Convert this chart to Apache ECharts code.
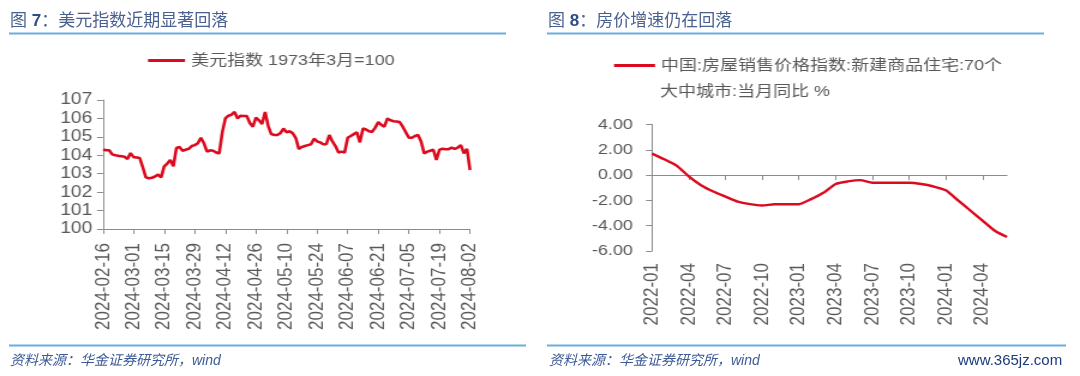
<!DOCTYPE html>
<html><head><meta charset="utf-8">
<script src="https://cdn.jsdelivr.net/npm/echarts@6/dist/echarts.min.js"></script>
<style>
html,body{margin:0;padding:0;background:#fff;width:1080px;height:376px;overflow:hidden}
.c{position:absolute;top:0;height:376px}
</style></head>
<body>
<div id="bg" class="c" style="left:0;width:1080px"></div>
<div id="c1" class="c" style="left:0;width:450px;transform:scaleX(1.2);transform-origin:0 0"></div>
<div id="c2" class="c" style="left:540px;width:450px;transform:scaleX(1.2);transform-origin:0 0"></div>
<script>
// ---------- data ----------
const dxyStart = '2024-02-16';
const dxyEnd = '2024-08-02';
const dxyName = '美元指数 1973年3月=100';
const dxyValues = [
104.30,104.28,104.27,104.05,104.00,103.97,103.95,103.92,103.80,104.12,
103.90,103.88,103.85,103.35,102.80,102.75,102.78,102.85,102.95,102.80,
103.40,103.55,103.75,103.40,104.40,104.45,104.25,104.30,104.35,104.50,
104.55,104.65,104.95,104.65,104.20,104.27,104.25,104.15,104.10,105.25,
106.00,106.15,106.20,106.35,106.00,106.15,106.13,106.13,105.75,105.55,
106.05,105.90,105.70,106.35,105.60,105.15,105.10,105.10,105.20,105.45,
105.25,105.30,105.20,104.95,104.35,104.45,104.50,104.55,104.60,104.90,
104.75,104.70,104.60,104.60,105.10,104.75,104.50,104.15,104.20,104.15,
104.95,105.05,105.15,105.25,104.70,105.45,105.40,105.30,105.27,105.50,
105.80,105.65,105.55,106.00,105.90,105.85,105.83,105.80,105.55,105.25,
104.95,104.95,105.05,105.10,104.75,104.10,104.20,104.25,104.30,103.75,
104.30,104.35,104.33,104.33,104.42,104.35,104.42,104.55,104.10,104.35,
103.20];
const dxyYTicks = [100, 107, 1];

const houseName1 = '中国:房屋销售价格指数:新建商品住宅:70个';
const houseName2 = '大中城市:当月同比 %';
const houseMonths = [
'2022-01','2022-02','2022-03','2022-04','2022-05','2022-06','2022-07','2022-08','2022-09','2022-10','2022-11','2022-12',
'2023-01','2023-02','2023-03','2023-04','2023-05','2023-06','2023-07','2023-08','2023-09','2023-10','2023-11','2023-12',
'2024-01','2024-02','2024-03','2024-04','2024-05','2024-06'];
const houseValues = [1.7,1.25,0.75,-0.1,-0.8,-1.3,-1.7,-2.1,-2.3,-2.4,-2.3,-2.3,
-2.3,-1.9,-1.4,-0.7,-0.5,-0.4,-0.6,-0.6,-0.6,-0.6,-0.7,-0.9,
-1.2,-2.0,-2.8,-3.6,-4.4,-4.9];
const houseYTicks = [-6, 4, 2];

const title1 = ['图 ', '7', '：美元指数近期显著回落'];
const title2 = ['图 ', '8', '：房价增速仍在回落'];
const sourceText = '资料来源：华金证券研究所，wind';
const watermark = 'www.365jz.com';

// weekday categories
function weekdays(a, b) {
  const out = [];
  const d = new Date(a + 'T00:00:00Z'), e = new Date(b + 'T00:00:00Z');
  while (d <= e) {
    const w = d.getUTCDay();
    if (w !== 0 && w !== 6) out.push(d.toISOString().slice(0, 10));
    d.setUTCDate(d.getUTCDate() + 1);
  }
  return out;
}
const dxyDates = weekdays(dxyStart, dxyEnd);

// ---------- styles ----------
const S = 1.2;
const FONT = '"Liberation Sans", Arial, "Noto Sans CJK SC", sans-serif';
const RED = '#dc0a1e';
const AXIS = '#8c8c8c';
const LABEL = '#595959';
const TITLE = '#4a6190';
const RULE = '#6aaee0';

// ---------- background (titles, rules, sources) ----------
const bg = echarts.init(document.getElementById('bg'));
function titleText(parts, x) {
  return {
    type: 'text', x: x, y: 21,
    style: {
      text: '{a|' + parts[0] + '}{b|' + parts[1] + '}{a|' + parts[2] + '}',
      verticalAlign: 'middle',
      rich: {
        a: { fontSize: 17, fontFamily: FONT, fill: TITLE, color: TITLE },
        b: { fontSize: 17, fontFamily: FONT, fill: '#2e4d86', color: '#2e4d86', fontWeight: 'bold' }
      }
    }
  };
}
function rule(x1, x2, y) {
  return { type: 'line', shape: { x1: x1, y1: y, x2: x2, y2: y }, style: { stroke: RULE, lineWidth: 2 } };
}
function src(x) {
  return { type: 'text', x: x, y: 361, style: { text: sourceText, font: 'italic 14px ' + FONT, fill: '#3c5a96', verticalAlign: 'middle' } };
}
bg.setOption({
  animation: false,
  graphic: [
    titleText(title1, 10), titleText(title2, 548),
    rule(9, 506, 33.5), rule(547, 1044, 33.5),
    rule(9, 526, 345.5), rule(547, 1066, 345.5),
    src(10), src(549),
    { type: 'text', x: 958, y: 361, style: { text: watermark, font: '15px ' + FONT, fill: '#1a3c7c', verticalAlign: 'middle' } }
  ]
});

// ---------- chart 1 ----------
const c1 = echarts.init(document.getElementById('c1'));
c1.setOption({
  animation: false,
  legend: {
    left: 148 / S, top: 53, padding: 0, icon: 'rect', itemWidth: 37 / S, itemHeight: 3,
    textStyle: { fontSize: 15, fontFamily: FONT, color: LABEL },
    data: [dxyName]
  },
  grid: { left: 103 / S, right: 450 - 470 / S, top: 100, height: 129 },
  xAxis: {
    type: 'category', data: dxyDates, boundaryGap: false,
    axisLine: { lineStyle: { color: AXIS, width: 1 } },
    axisTick: { interval: 9, length: 5, lineStyle: { color: AXIS } },
    axisLabel: { interval: 9, rotate: 90, margin: 14, fontSize: 17, fontFamily: FONT, color: LABEL },
    splitLine: { show: false }
  },
  yAxis: {
    type: 'value', min: dxyYTicks[0], max: dxyYTicks[1], interval: dxyYTicks[2],
    axisLine: { show: true, lineStyle: { color: AXIS, width: 1 } },
    axisTick: { show: true, length: 5, lineStyle: { color: AXIS } },
    axisLabel: { margin: 9, fontSize: 16, fontFamily: FONT, color: LABEL },
    splitLine: { show: false }
  },
  series: [{
    name: dxyName, type: 'line', data: dxyValues, showSymbol: false,
    lineStyle: { color: RED, width: 2.6 }, itemStyle: { color: RED }
  }]
});

// ---------- chart 2 ----------
const c2 = echarts.init(document.getElementById('c2'));
c2.setOption({
  animation: false,
  legend: {
    left: (614 - 540) / S, top: 58, padding: 0, icon: 'rect', itemWidth: 41 / S, itemHeight: 3,
    textStyle: { fontSize: 15, fontFamily: FONT, color: LABEL },
    formatter: function () { return houseName1; },
    data: [houseName1]
  },
  graphic: [{
    type: 'text', x: (660 - 540) / S, y: 92,
    style: { text: houseName2, font: '15px ' + FONT, fill: LABEL, verticalAlign: 'middle' }
  }],
  grid: { left: (652 - 540) / S, right: 450 - (1007 - 540) / S, top: 124.5, height: 126.5 },
  xAxis: [{
    type: 'category', data: houseMonths, boundaryGap: false, position: 'bottom',
    axisLine: { show: false, onZero: false },
    axisTick: { show: false },
    axisLabel: { interval: 2, rotate: 90, margin: 12, fontSize: 17, fontFamily: FONT, color: LABEL },
    splitLine: { show: false }
  }, {
    type: 'category', data: houseMonths, boundaryGap: false, position: 'bottom',
    axisLine: { show: true, onZero: true, lineStyle: { color: AXIS, width: 1 } },
    axisTick: { show: true, interval: 2, length: 5, lineStyle: { color: AXIS } },
    axisLabel: { show: false },
    splitLine: { show: false }
  }],
  yAxis: {
    type: 'value', min: houseYTicks[0], max: houseYTicks[1], interval: houseYTicks[2],
    axisLine: { show: true, lineStyle: { color: AXIS, width: 1 } },
    axisTick: { show: true, length: 5, lineStyle: { color: AXIS } },
    axisLabel: { margin: 16, fontSize: 15, fontFamily: FONT, color: LABEL, formatter: function (v) { return v.toFixed(2); } },
    splitLine: { show: false }
  },
  series: [{
    name: houseName1, type: 'line', data: houseValues, showSymbol: false, smooth: 0.2,
    lineStyle: { color: RED, width: 2.4 }, itemStyle: { color: RED }
  }]
});
</script>
</body></html>
